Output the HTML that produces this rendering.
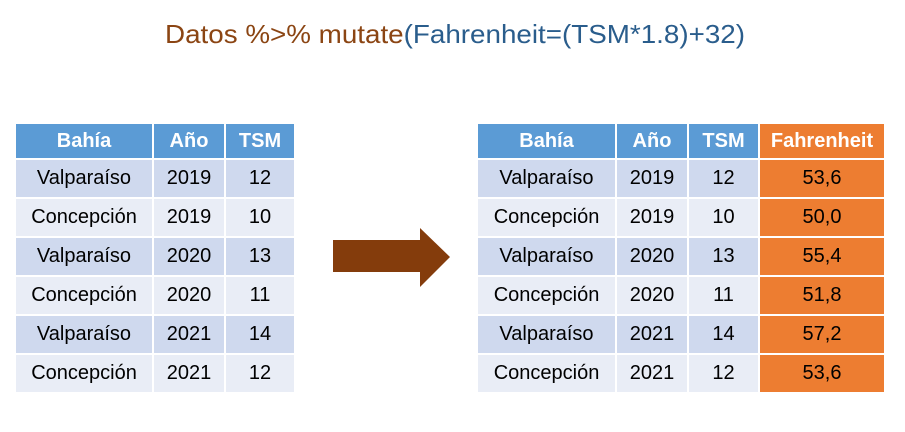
<!DOCTYPE html>
<html><head><meta charset="utf-8">
<style>
body{margin:0;width:905px;height:432px;background:#fff;position:relative;overflow:hidden;font-family:"Liberation Sans",sans-serif}
table{position:absolute;border-collapse:collapse;table-layout:fixed}
td,th{border:2px solid #fff;text-align:center;padding:0;font-size:20px;color:#000;height:37px}
th{background:#5b9bd5;color:#fff;font-weight:bold;font-size:20px;height:34px}
tr.d td{background:#cfd9ee}
tr.l td{background:#e9edf6}
td.f{background:#ed7d31 !important}
th.f{background:#ed7d31}
</style></head><body>
<svg width="905" height="70" style="position:absolute;left:0;top:0">
<text x="165" y="43" font-size="26" textLength="580" lengthAdjust="spacingAndGlyphs" font-family="Liberation Sans, sans-serif"><tspan fill="#8b4513">Datos %&gt;% mutate</tspan><tspan fill="#2a5d8c">(Fahrenheit=(TSM*1.8)+32)</tspan></text>
</svg>
<table style="left:14px;top:122px;width:280px">
<colgroup><col style="width:138px"><col style="width:72px"><col style="width:70px"></colgroup>
<tr><th>Bahía</th><th>Año</th><th>TSM</th></tr>
<tr class="d"><td>Valparaíso</td><td>2019</td><td>12</td></tr>
<tr class="l"><td>Concepción</td><td>2019</td><td>10</td></tr>
<tr class="d"><td>Valparaíso</td><td>2020</td><td>13</td></tr>
<tr class="l"><td>Concepción</td><td>2020</td><td>11</td></tr>
<tr class="d"><td>Valparaíso</td><td>2021</td><td>14</td></tr>
<tr class="l"><td>Concepción</td><td>2021</td><td>12</td></tr>
</table>
<svg width="905" height="432" style="position:absolute;left:0;top:0">
<polygon points="333,240 420,240 420,228 450,257 420,287 420,272 333,272" fill="#843c0c"/>
</svg>
<table style="left:476px;top:122px;width:408px">
<colgroup><col style="width:139px"><col style="width:72px"><col style="width:71px"><col style="width:126px"></colgroup>
<tr><th>Bahía</th><th>Año</th><th>TSM</th><th class="f">Fahrenheit</th></tr>
<tr class="d"><td>Valparaíso</td><td>2019</td><td>12</td><td class="f">53,6</td></tr>
<tr class="l"><td>Concepción</td><td>2019</td><td>10</td><td class="f">50,0</td></tr>
<tr class="d"><td>Valparaíso</td><td>2020</td><td>13</td><td class="f">55,4</td></tr>
<tr class="l"><td>Concepción</td><td>2020</td><td>11</td><td class="f">51,8</td></tr>
<tr class="d"><td>Valparaíso</td><td>2021</td><td>14</td><td class="f">57,2</td></tr>
<tr class="l"><td>Concepción</td><td>2021</td><td>12</td><td class="f">53,6</td></tr>
</table>
</body></html>
